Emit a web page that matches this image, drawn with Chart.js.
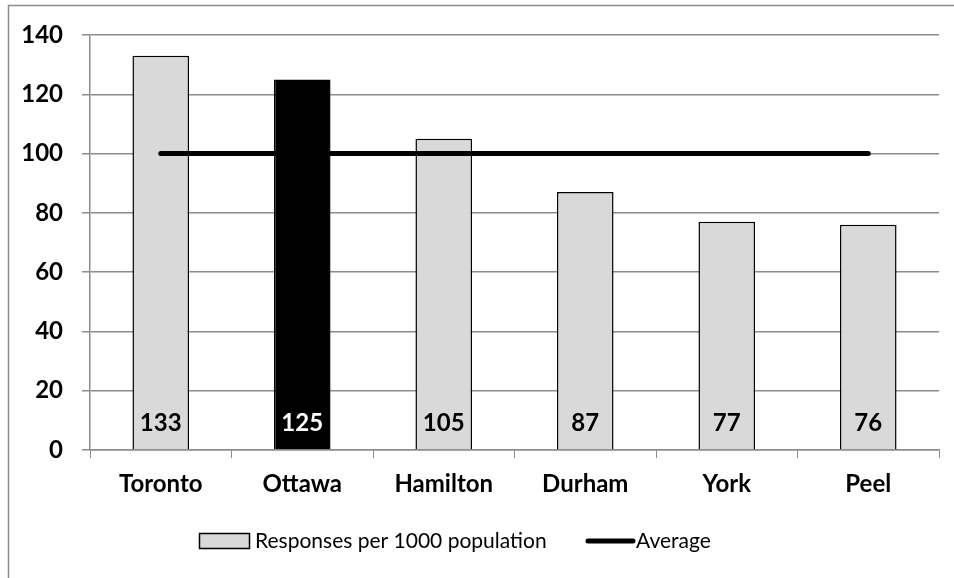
<!DOCTYPE html>
<html>
<head>
<meta charset="utf-8">
<script src="https://cdn.jsdelivr.net/npm/chart.js@4/dist/chart.umd.min.js"></script>
<style>
  html, body { margin: 0; padding: 0; background: #fff; }
  #wrap { position: relative; width: 954px; height: 578px; }
</style>
</head>
<body>
<div id="wrap"><canvas id="c" width="954" height="578"></canvas></div>
<script>
// Emergency responses per 1000 population by region
const regions = ['Toronto', 'Ottawa', 'Hamilton', 'Durham', 'York', 'Peel'];
const responses = [133, 125, 105, 87, 77, 76];
const average = [100, 100, 100, 100, 100, 100];
const yTicks = [0, 20, 40, 60, 80, 100, 120, 140];
const highlighted = 'Ottawa';

const FONT = 'Lato, "Open Sans", sans-serif';
const GRID = '#8c8c8c';

const barFill = regions.map(r => r === highlighted ? '#000000' : '#d9d9d9');

// Outer frame of the chart
const framePlugin = {
  id: 'frame',
  beforeDraw(chart) {
    const ctx = chart.ctx;
    ctx.save();
    ctx.strokeStyle = '#8c8c8c';
    ctx.lineWidth = 1.5;
    ctx.beginPath();
    ctx.moveTo(8.5, 578);
    ctx.lineTo(8.5, 5.5);
    ctx.lineTo(954, 5.5);
    ctx.stroke();
    ctx.restore();
  }
};

// Value labels at the foot of each bar
const barLabelPlugin = {
  id: 'barLabels',
  afterDatasetsDraw(chart) {
    const ctx = chart.ctx;
    const meta = chart.getDatasetMeta(0);
    const yScale = chart.scales.y;
    ctx.save();
    ctx.font = 'bold 24px ' + FONT;
    ctx.textAlign = 'center';
    ctx.textBaseline = 'middle';
    meta.data.forEach((bar, i) => {
      ctx.fillStyle = regions[i] === highlighted ? '#ffffff' : '#000000';
      ctx.fillText(String(responses[i]), bar.x, yScale.getPixelForValue(0) - 27);
    });
    ctx.restore();
  }
};

// Legend row under the axis
const legendPlugin = {
  id: 'customLegend',
  afterDraw(chart) {
    const ctx = chart.ctx;
    const ds = chart.data.datasets;
    const y = 541;
    ctx.save();
    ctx.font = '21px ' + FONT;
    ctx.textBaseline = 'middle';
    ctx.textAlign = 'left';
    // bar series swatch
    ctx.fillStyle = '#d9d9d9';
    ctx.fillRect(199.5, 533.5, 50, 15);
    ctx.strokeStyle = '#000';
    ctx.lineWidth = 1.5;
    ctx.strokeRect(199.5, 533.5, 50, 15);
    ctx.fillStyle = '#000';
    ctx.fillText(ds[0].label, 255, y);
    // line series swatch
    ctx.lineWidth = 5;
    ctx.lineCap = 'round';
    ctx.beginPath();
    ctx.moveTo(588, y);
    ctx.lineTo(633, y);
    ctx.stroke();
    ctx.fillText(ds[1].label, 636, y);
    ctx.restore();
  }
};

new Chart(document.getElementById('c'), {
  data: {
    labels: regions,
    datasets: [
      {
        type: 'bar',
        label: 'Responses per 1000 population',
        data: responses,
        backgroundColor: barFill,
        borderColor: '#000000',
        borderWidth: 1.5,
        barPercentage: 0.4,
        categoryPercentage: 1.0,
        order: 2
      },
      {
        type: 'line',
        label: 'Average',
        data: average,
        borderColor: '#000000',
        borderWidth: 5,
        borderCapStyle: 'round',
        pointRadius: 0,
        fill: false,
        order: 1
      }
    ]
  },
  options: {
    responsive: false,
    animation: false,
    events: [],
    layout: { padding: { left: 0, top: 35, right: 15, bottom: 68 } },
    plugins: {
      legend: { display: false },
      tooltip: { enabled: false }
    },
    scales: {
      x: {
        offset: true,
        grid: {
          offset: true,
          drawOnChartArea: false,
          drawTicks: true,
          tickLength: 8,
          color: GRID,
          lineWidth: 1
        },
        border: { color: GRID, width: 1.5 },
        ticks: {
          color: '#000',
          font: { family: FONT, size: 24, weight: 'bold' },
          padding: 12
        },
        afterFit(scale) { scale.height = 60; }
      },
      y: {
        min: 0,
        max: 140,
        afterBuildTicks(scale) { scale.ticks = yTicks.map(v => ({ value: v })); },
        grid: {
          color: GRID,
          lineWidth: 1.5,
          drawTicks: true,
          tickLength: 8
        },
        border: { color: GRID, width: 1.5 },
        ticks: {
          color: '#000',
          font: { family: FONT, size: 24, weight: 'bold' },
          padding: 19
        },
        afterFit(scale) { scale.width = 90; }
      }
    }
  },
  plugins: [framePlugin, barLabelPlugin, legendPlugin]
});
</script>
</body>
</html>
